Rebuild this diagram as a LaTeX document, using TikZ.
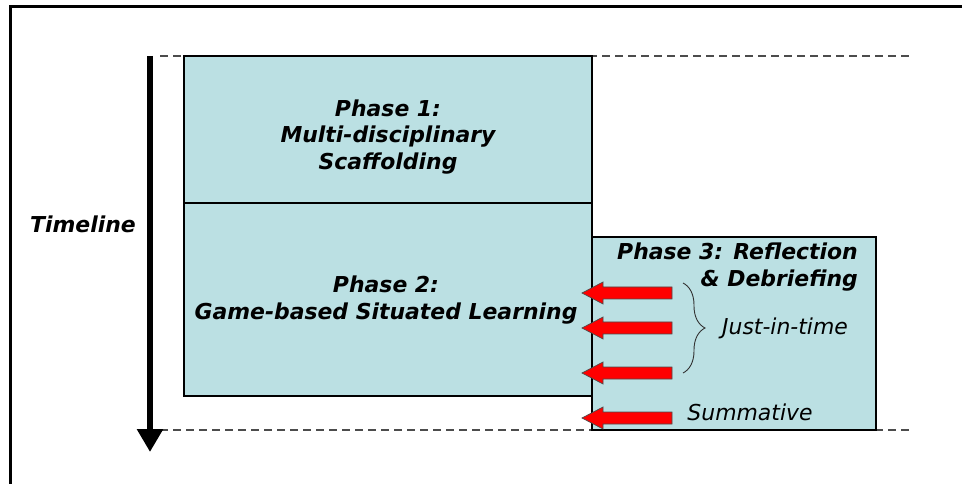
\documentclass[tikz,border=0pt]{standalone}
\usepackage{fontspec}
\setmainfont{DejaVu Sans}
\usetikzlibrary{arrows.meta,decorations.pathreplacing}
\definecolor{phasefill}{RGB}{187,224,227}
\definecolor{arrred}{RGB}{255,0,0}
\begin{document}
\begin{tikzpicture}[x=1bp,y=-1bp,
  phasebox/.style={draw=black, line width=2bp, fill=phasefill},
  guide/.style={draw=black!70, line width=1.1bp, dash pattern=on 8bp off 5bp},
  btext/.style={font=\fontsize{22}{27}\selectfont\bfseries\itshape, inner sep=0pt},
  itext/.style={font=\fontsize{22}{27}\selectfont\itshape, inner sep=0pt},
  redarrow/.pic={\draw[fill=arrred, draw=black!70, line width=0.7bp]
     (0,-6) -- (-69,-6) -- (-69,-11) -- (-90,0) -- (-69,11) -- (-69,6) -- (0,6) -- cycle;}]
\useasboundingbox (0,0) rectangle (962,484);
% frame
\draw[line width=3bp] (10,484) -- (10,7) -- (962,7);
% guide lines
\draw[guide] (160,56) -- (910,56);
\draw[guide] (160,430) -- (910,430);
% phase boxes
\draw[phasebox] (184,56) rectangle (592,203);
\draw[phasebox] (184,203) rectangle (592,396);
\draw[phasebox] (592,237) rectangle (876,430);
% timeline
\coordinate (tstart) at (150,56);
\coordinate (tend) at (150,452);
\draw[line width=6.5bp, -{Triangle[length=23bp,width=25bp]}] (tstart) -- (tend);
\node[btext] (timeline) at (83,224) {Timeline};
% texts
\node[btext, align=center] (p1) at (388,137) {Phase 1:\\Multi-disciplinary\\Scaffolding};
\node[btext, align=center] (p2) at (386,300) {Phase 2:\\Game-based Situated Learning};
\node[btext, align=right, anchor=east] (p3) at (858,267) {Phase 3: Reflection\\\& Debriefing};
\node[itext] (jit) at (785,328) {Just-in-time};
\node[itext] (summ) at (750,412) {Summative};
% red arrows
\pic at (672,293) {redarrow};
\pic at (672,328) {redarrow};
\pic at (672,373) {redarrow};
\pic at (672,418) {redarrow};
% brace
\coordinate (btop) at (683,283);
\coordinate (bbot) at (683,373);
\draw[black!80, line width=0.9bp, decorate, decoration={brace, amplitude=22bp}] (btop) -- (bbot);
\end{tikzpicture}
\end{document}
